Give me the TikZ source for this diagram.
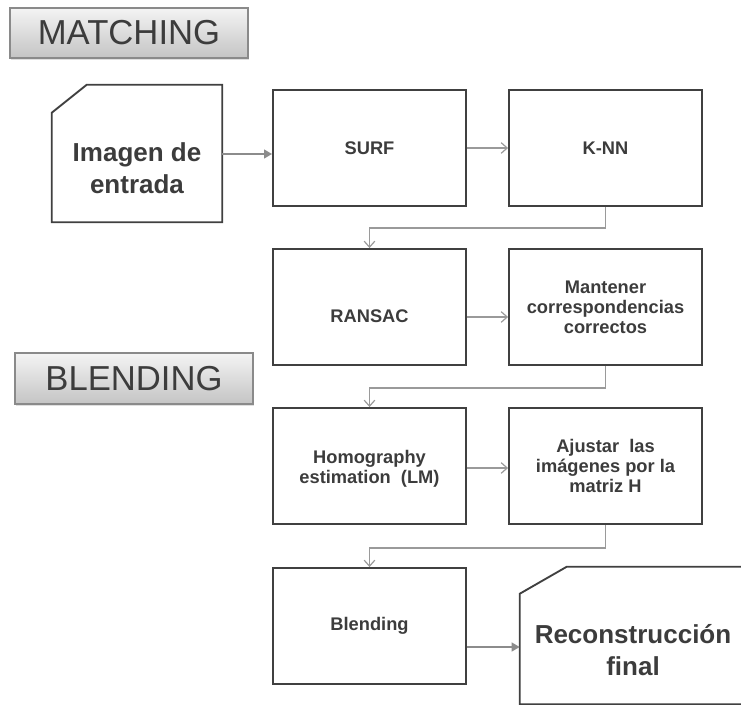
\documentclass[tikz,border=0pt]{standalone}
\usepackage{fontspec}
\setmainfont{Liberation Sans}
\usetikzlibrary{arrows.meta,calc,shadows}
\definecolor{boxline}{HTML}{404040}
\definecolor{txt}{HTML}{3C3C3C}
\definecolor{conn}{HTML}{9A9A9A}
\definecolor{thickconn}{HTML}{8C8C8C}
\definecolor{labtop}{HTML}{F4F4F4}
\definecolor{labbot}{HTML}{C4C4C4}
\definecolor{labline}{HTML}{8A8A8A}
\begin{document}
\begin{tikzpicture}[x=0.75pt,y=-0.75pt,
  stepbox/.style={draw=boxline,line width=1.4pt,fill=white,minimum width=193*0.75pt,minimum height=116*0.75pt,inner sep=0pt,text=txt,align=center,font=\fontsize{13.7}{15}\selectfont\bfseries},
  smalltext/.style={text=txt,align=center,font=\fontsize{13.7}{15}\selectfont\bfseries},
  bigtext/.style={text=txt,align=center,font=\fontsize{19.5}{24}\selectfont\bfseries},
  labelbox/.style={draw=labline,line width=0.8pt,top color=labtop,bottom color=labbot,minimum width=238*0.75pt,minimum height=50*0.75pt,inner sep=0pt,text=txt,font=\fontsize{26}{30}\selectfont,drop shadow={shadow xshift=1pt,shadow yshift=-1.2pt,opacity=0.25}},
  thin/.style={draw=conn,line width=0.9pt,-{Straight Barb[length=4.5pt,width=8pt]}},
  thick/.style={draw=thickconn,line width=1.8pt,-{Triangle[length=6pt,width=6.5pt]}},
  shapeline/.style={draw=boxline,line width=1.4pt,fill=white}
]
\useasboundingbox (0,0) rectangle (741,705);
% labels
\node[labelbox] (lmatch) at (129,33) {MATCHING};
\node[labelbox,minimum height=51*0.75pt] (lblend) at (134,378.5) {BLENDING};
% input shape
\node[minimum width=170*0.75pt,minimum height=137*0.75pt,inner sep=0pt] (img) at (137,153.5) {};
\draw[shapeline] (img.south west) -- ($(img.north west)+(0,28)$) -- ($(img.north west)+(35,0)$) -- (img.north east) -- (img.south east) -- cycle;
\node[bigtext] (imgtext) at (137,168) {Imagen de\\entrada};
% boxes
\node[stepbox] (surf) at (369.5,148) {SURF};
\node[stepbox] (knn) at (605.5,148) {K-NN};
\node[stepbox] (ransac) at (369.5,307) {};
\node[smalltext] (ransactext) at (369.5,316) {RANSAC};
\node[stepbox] (mant) at (605.5,307) {Mantener\\correspondencias\\correctos};
\node[stepbox] (homo) at (369.5,466) {};
\node[smalltext] (homotext) at (369.5,469) {Homography\\estimation~~(LM)};
\node[stepbox] (ajus) at (605.5,466) {Ajustar~~las\\imágenes por la\\matriz H};
\node[stepbox] (blend) at (369.5,626) {Blending};
% output shape
\node[minimum width=225*0.75pt,minimum height=137*0.75pt,inner sep=0pt] (rec) at (632.5,635.5) {};
\draw[shapeline] (rec.south west) -- ($(rec.north west)+(0,27)$) -- ($(rec.north west)+(47,0)$) -- (rec.north east) -- (rec.south east) -- cycle;
\node[bigtext] (rectext) at (633,650) {Reconstrucción\\final};
% connectors
\draw[thick] (img.east |- 0,154) -- (surf.west |- 0,154);
\draw[thin] (surf.east) -- (knn.west);
\draw[thin] (knn.south) -- ++(0,21) -| (ransac.north);
\draw[thin] (ransac.east |- 0,317) -- (mant.west |- 0,317);
\draw[thin] (mant.south) -- ++(0,22) -| (homo.north);
\draw[thin] (homo.east |- 0,468) -- (ajus.west |- 0,468);
\draw[thin] (ajus.south) -- ++(0,23) -| (blend.north);
\draw[thick] (blend.east |- 0,647) -- (rec.west |- 0,647);
\end{tikzpicture}
\end{document}
